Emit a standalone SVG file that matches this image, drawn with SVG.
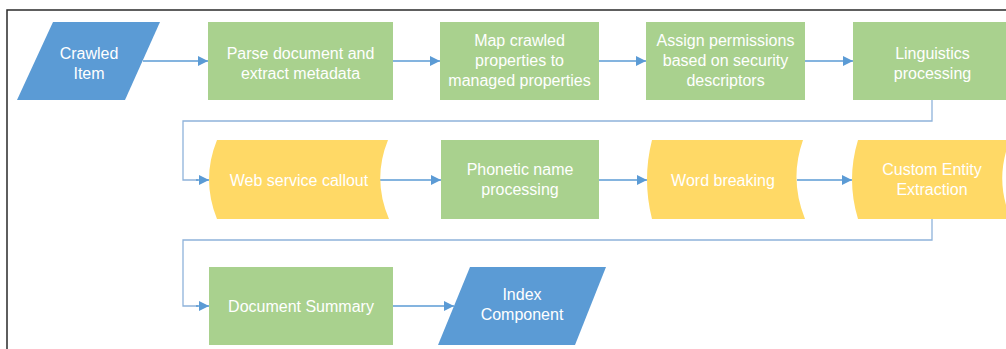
<svg xmlns="http://www.w3.org/2000/svg" width="1006" height="349" viewBox="0 0 1006 349">
<style>
.io{fill:#5B9BD5}
.proc{fill:#A9D18E}
.ext{fill:#FFD966}
.t{font-family:"Liberation Sans",Arial,sans-serif;font-size:16px;fill:#FFFFFF;text-anchor:middle}
.c{fill:none;stroke:#5B9BD5;stroke-width:1.5}
.loop{fill:none;stroke:#8FB3DA;stroke-width:1.3}
</style>
<defs>
<marker id="ah" markerUnits="userSpaceOnUse" markerWidth="11" markerHeight="11" refX="10" refY="5" orient="auto">
<path d="M0,0 L10,5 L0,10 Z" fill="#5B9BD5"/>
</marker>
</defs>
<rect x="0" y="0" width="1006" height="349" fill="#FFFFFF"/>
<path d="M7,349 V10 H1006" fill="none" stroke="#2A2A2A" stroke-width="1.5"/>

<g id="connectors">
<path class="c" d="M143,61 H208" marker-end="url(#ah)"/>
<path class="c" d="M393,61 H440" marker-end="url(#ah)"/>
<path class="c" d="M599,61 H646" marker-end="url(#ah)"/>
<path class="c" d="M805,61 H853" marker-end="url(#ah)"/>
<path class="loop" d="M932,100 V121 H183 V180 H198"/>
<path class="c" d="M196,180 H209" marker-end="url(#ah)"/>
<path class="c" d="M380,180 H441" marker-end="url(#ah)"/>
<path class="c" d="M599,180 H647" marker-end="url(#ah)"/>
<path class="c" d="M797,180 H852" marker-end="url(#ah)"/>
<path class="loop" d="M932,219 V240 H183 V306 H198"/>
<path class="c" d="M196,306 H209" marker-end="url(#ah)"/>
<path class="c" d="M393,306 H454" marker-end="url(#ah)"/>
</g>

<g id="crawled-item">
<polygon class="io" points="53,22 160,22 125,100 17,100"/>
<text class="t" x="89" y="59">Crawled</text>
<text class="t" x="89" y="79">Item</text>
</g>
<g id="parse">
<rect class="proc" x="208" y="22" width="185" height="78"/>
<text class="t" x="300.5" y="59">Parse document and</text>
<text class="t" x="300.5" y="79">extract metadata</text>
</g>
<g id="map">
<rect class="proc" x="440" y="22" width="159" height="78"/>
<text class="t" x="519.5" y="46">Map crawled</text>
<text class="t" x="519.5" y="66">properties to</text>
<text class="t" x="519.5" y="86">managed properties</text>
</g>
<g id="assign">
<rect class="proc" x="646" y="22" width="159" height="78"/>
<text class="t" x="725.5" y="46">Assign permissions</text>
<text class="t" x="725.5" y="66">based on security</text>
<text class="t" x="725.5" y="86">descriptors</text>
</g>
<g id="linguistics">
<rect class="proc" x="853" y="22" width="159" height="78"/>
<text class="t" x="932.5" y="59">Linguistics</text>
<text class="t" x="932.5" y="79">processing</text>
</g>
<g id="web-service">
<path class="ext" d="M217,140 L388,140 Q372,179.5 389,219 L217,219 Q201,179.5 217,140 Z"/>
<text class="t" x="299" y="186">Web service callout</text>
</g>
<g id="phonetic">
<rect class="proc" x="441" y="140" width="158" height="79"/>
<text class="t" x="520" y="175">Phonetic name</text>
<text class="t" x="520" y="195">processing</text>
</g>
<g id="word-breaking">
<path class="ext" d="M652,140 L803,140 Q789,179.5 805,219 L652,219 Q642,179.5 652,140 Z"/>
<text class="t" x="723" y="186">Word breaking</text>
</g>
<g id="custom-entity">
<path class="ext" d="M858,140 L1010,140 Q994,179.5 1011,219 L858,219 Q846,179.5 858,140 Z"/>
<text class="t" x="932" y="175">Custom Entity</text>
<text class="t" x="932" y="195">Extraction</text>
</g>
<g id="document-summary">
<rect class="proc" x="209" y="267" width="184" height="78"/>
<text class="t" x="301" y="312">Document Summary</text>
</g>
<g id="index-component">
<polygon class="io" points="470,267 606,267 575,345 438,345"/>
<text class="t" x="522" y="300">Index</text>
<text class="t" x="522" y="320">Component</text>
</g>
</svg>
